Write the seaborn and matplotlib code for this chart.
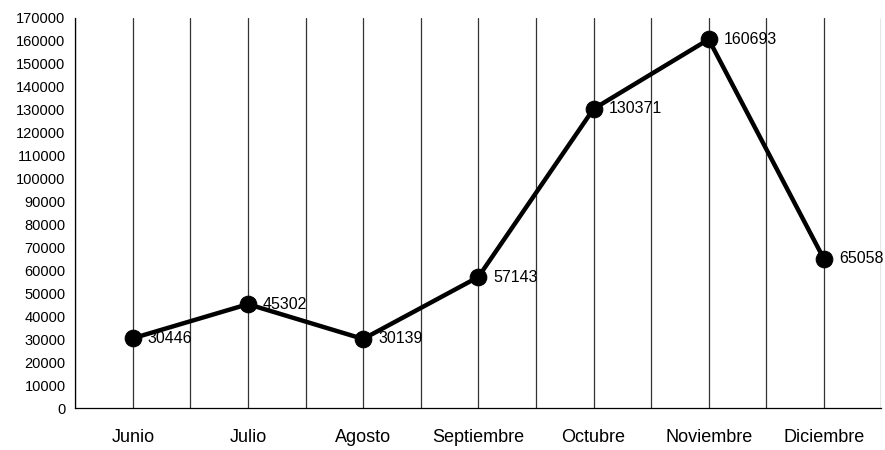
import seaborn as sns
import pandas as pd
import numpy as np
import matplotlib.pyplot as plt
from matplotlib.ticker import MultipleLocator, FixedLocator

meses = ['Junio', 'Julio', 'Agosto', 'Septiembre', 'Octubre', 'Noviembre', 'Diciembre']
valores = [30446, 45302, 30139, 57143, 130371, 160693, 65058]

df = pd.DataFrame({'mes': meses, 'valor': valores})
df['pos'] = np.arange(len(meses))

sns.set_style('white')
plt.rcParams['font.family'] = ['Liberation Sans', 'DejaVu Sans']
plt.rcParams['text.color'] = 'black'
plt.rcParams['xtick.color'] = 'black'
plt.rcParams['ytick.color'] = 'black'

fig = plt.figure(figsize=(8.85, 4.5), dpi=100)
ax = fig.add_axes([0.085, 0.093, 0.911, 0.867])

# vertical grid: category centres and boundaries
for xv in np.arange(-0.5, len(meses), 0.5):
    ax.axvline(xv, color='#333333', lw=0.9, zorder=1)

sns.lineplot(data=df, x='pos', y='valor', color='black', lw=3.2, marker='o',
             markersize=12, markeredgecolor='black', sort=False, ax=ax, zorder=3)

for p, v in zip(df['pos'], df['valor']):
    ax.text(p + 0.13, v, str(v), va='center', ha='left', fontsize=11.5,
            color='black', zorder=4)

ax.set_xlim(-0.5, len(meses) - 0.5)
ax.set_ylim(0, 170000)
ax.yaxis.set_major_locator(MultipleLocator(10000))
ax.xaxis.set_major_locator(FixedLocator(np.arange(-0.5, len(meses), 1.0)))
ax.xaxis.set_major_formatter(plt.NullFormatter())
ax.xaxis.set_minor_locator(FixedLocator(np.arange(len(meses))))
ax.set_xticklabels(meses, minor=True)
ax.tick_params(axis='x', which='minor', length=0, pad=15, labelsize=13)
ax.tick_params(axis='x', which='major', length=5, width=0.9, color='black', direction='out')
ax.tick_params(axis='y', which='major', length=5, width=0.9, color='black', labelsize=10.5, pad=2)
ax.set_xlabel('')
ax.set_ylabel('')

for s in ['top', 'right']:
    ax.spines[s].set_visible(False)
ax.spines['left'].set_color('black')
ax.spines['bottom'].set_color('black')
ax.spines['left'].set_linewidth(0.9)
ax.spines['bottom'].set_linewidth(0.9)

plt.savefig('out.png', dpi=100)
plt.close('all')
